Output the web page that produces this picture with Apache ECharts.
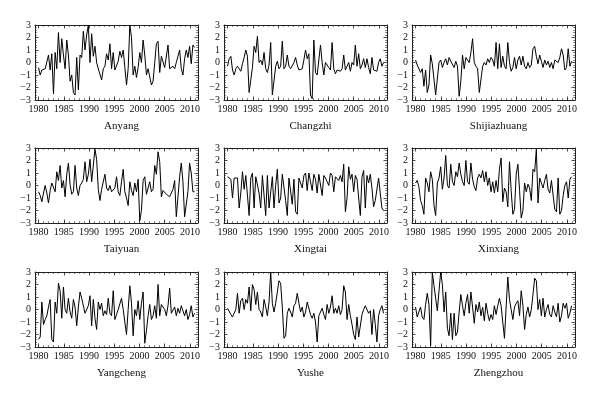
<!DOCTYPE html>
<html><head><meta charset="utf-8">
<script src="https://cdn.jsdelivr.net/npm/echarts@6/dist/echarts.min.js"></script>
<style>html,body{margin:0;padding:0;background:#fff}#c{width:600px;height:395px}</style>
</head><body><div id="c"></div>
<script>
// ---- data (~one sample per 4 months, 1980 -> end of 2010) ----
const stations = ['Anyang','Changzhi','Shijiazhuang','Taiyuan','Xingtai','Xinxiang','Yangcheng','Yushe','Zhengzhou'];
const xTickLabels = [1980,1985,1990,1995,2000,2005,2010];
const xMinorTicks = [1980,1981,1982,1983,1984,1985,1986,1987,1988,1989,1990,1991,1992,1993,1994,1995,1996,1997,1998,1999,2000,2001,2002,2003,2004,2005,2006,2007,2008,2009,2010,2011];
const yTickLabels = [-3,-2,-1,0,1,2,3];
const firstYear = 1980, lastYear = 2010.92;

const anyang = [-0.4,-1.0,-0.6,-0.7,-0.5,-0.6,0.6,-0.6,0.7,-2.5,0.8,-0.5,2.4,0.0,1.9,0.6,-0.5,1.8,0.6,-1.5,-1.0,-2.4,-2.6,0.4,-2.2,0.6,0.4,2.5,1.0,2.2,3.0,0.0,2.3,0.5,1.3,0.0,-0.5,-0.4,-1.4,-0.5,-0.3,0.7,0.2,1.5,-0.5,0.8,-0.6,-0.5,0.1,0.9,0.4,1.0,-0.4,-1.8,-0.5,3.0,2.0,-1.0,-0.3,-1.2,-0.4,0.8,0.0,1.8,0.6,-1.0,-0.5,-0.5,-1.8,-1.5,0.0,1.5,1.7,-0.8,0.5,0.5,-0.4,-0.5,1.4,-0.5,-0.6,-0.3,-0.5,0.0,0.5,1.0,-0.5,-1.0,0.3,1.0,0.4,1.3,-0.1,1.4,1.2];
const changzhi = [-0.3,0.3,0.5,-0.6,-1.0,-0.5,-0.3,-0.2,-0.7,-0.1,0.4,1.0,0.5,-2.4,-2.3,-0.4,1.3,0.8,2.1,0.0,0.2,-0.2,0.8,-0.5,-0.8,-0.2,1.6,-2.6,-2.6,-0.3,0.1,-0.5,-0.3,1.7,-0.5,-0.3,0.6,-0.3,-0.5,-0.6,0.0,0.4,-0.2,-0.6,-0.7,-0.5,0.2,1.0,0.3,0.7,-2.6,-2.9,1.8,-0.8,-1.0,0.2,1.4,0.0,-1.0,0.0,-0.2,-0.4,-0.6,1.6,-0.5,-0.9,-0.6,-0.7,-0.7,-0.5,0.6,-0.6,-0.3,0.0,-0.7,0.0,-0.2,1.4,-0.3,0.7,-0.5,-0.2,0.3,-0.4,0.3,-0.4,-0.9,0.4,-0.6,-0.5,-0.7,0.0,0.3,-0.3,0.0];
const shijiazhuang = [0.2,-0.2,-0.3,-0.8,-0.5,-1.9,-0.6,-2.4,-1.8,0.6,-0.1,0.0,-2.6,-2.7,0.0,0.2,-0.4,0.0,0.3,-0.2,0.4,0.1,0.0,-0.4,0.1,-0.3,-2.7,-1.5,0.6,-0.5,0.4,0.3,0.0,0.8,1.9,0.0,-0.3,-0.5,-2.4,-2.5,-0.3,0.0,-0.2,0.3,0.0,0.4,0.2,-0.3,1.6,-0.5,1.5,-0.4,0.5,-0.3,-0.5,1.6,0.0,-0.7,-0.4,0.4,-0.5,0.2,0.5,-0.2,0.5,-0.3,-0.5,0.0,-0.4,-0.2,1.1,1.3,0.5,-0.1,0.6,0.1,-0.4,0.2,-0.2,0.1,-0.4,0.0,-0.5,0.2,0.1,0.0,0.4,1.1,0.6,-0.6,-0.4,1.1,-0.3,0.1];
const taiyuan = [-0.5,-0.8,-1.3,-0.6,0.0,-0.6,-1.4,-0.4,0.2,0.2,-0.5,1.1,0.4,1.6,-0.2,0.4,-0.9,0.9,1.8,0.1,-0.7,-0.5,1.6,-0.2,-0.8,0.0,0.2,0.5,1.9,0.3,0.9,2.1,0.3,0.3,2.9,2.1,-0.3,-1.2,-0.3,-0.4,0.9,-0.2,-0.4,0.0,-0.5,-0.5,-0.2,0.7,-0.5,-0.8,0.3,1.3,-0.5,-1.0,-1.6,0.3,-0.4,-0.8,0.2,-0.5,0.5,-2.8,-2.0,0.4,0.7,-0.7,-0.8,0.3,-0.5,-0.3,1.6,0.9,2.7,1.9,-0.9,-0.4,-0.4,-0.7,-0.8,-0.9,-0.6,-0.3,0.4,-2.5,-2.5,0.7,1.8,0.3,-2.5,-2.6,-0.5,1.8,1.0,-0.5,-0.5];
const xingtai = [0.7,0.7,0.5,-1.0,0.6,0.7,0.6,-1.8,-0.6,1.1,-0.3,0.8,0.8,-2.4,0.6,1.0,-1.8,0.7,0.6,-0.6,-1.8,0.8,0.8,-2.4,0.8,-1.8,-1.7,0.7,-1.8,0.0,1.3,-1.4,-1.0,0.9,0.8,-1.2,-2.4,0.6,0.5,-1.5,0.5,-2.1,-2.3,0.6,0.5,-0.2,0.8,1.0,-0.4,1.0,0.9,-0.4,0.9,0.5,-0.6,0.9,0.8,-0.8,0.8,0.6,0.3,0.0,1.0,0.8,-0.5,0.7,0.6,0.4,0.8,0.3,1.7,-2.1,-1.0,1.5,0.5,0.9,-0.5,0.8,0.5,-1.0,-2.4,0.7,1.2,-1.8,0.8,0.2,0.9,-0.2,-1.7,-1.2,-1.3,0.6,0.7,-1.8,-2.0];
const xinxiang = [0.2,0.4,-0.1,-1.2,-1.6,-2.3,0.6,0.2,-0.5,1.1,0.5,-1.6,-2.4,0.2,0.6,1.5,-0.3,0.6,2.4,0.0,-0.2,1.7,0.3,0.0,1.1,0.7,1.8,0.9,0.3,0.0,2.0,0.3,0.1,1.8,0.5,-0.1,-0.4,0.6,0.9,0.6,1.2,0.3,1.1,0.0,0.6,-0.5,0.3,-0.6,0.4,-0.5,1.3,2.2,-1.3,-0.2,-0.5,-1.7,1.9,-0.4,-2.3,-1.9,0.9,1.7,-0.4,-2.6,-2.0,0.2,-0.5,0.1,-0.2,-1.2,1.3,1.1,2.9,-1.4,0.6,0.7,-0.2,0.4,0.9,-0.3,-0.6,0.4,0.3,-1.9,-2.1,0.6,-2.3,-2.0,-0.8,0.0,0.3,-1.0,0.5,0.7];
const yangcheng = [-2.4,-2.2,0.6,-1.2,-0.8,-0.5,0.2,0.8,-2.4,-2.6,0.6,-0.3,2.1,1.5,-0.7,1.8,0.0,-0.3,0.9,-0.2,-0.7,0.8,0.2,-1.3,0.2,1.4,0.9,1.0,-0.3,-0.4,0.3,1.1,-1.3,0.8,-0.7,-1.6,0.6,0.0,0.5,-0.5,-0.1,-0.4,0.9,-0.3,-0.5,1.5,-0.8,-0.4,0.0,0.1,0.9,0.0,-1.0,-2.0,0.0,1.9,0.5,-2.1,0.0,-0.5,0.7,-0.8,0.5,1.4,-2.7,-1.7,-0.5,0.4,-0.8,-0.5,0.3,-0.7,2.0,-0.5,0.4,0.3,0.0,-0.5,0.3,1.7,-0.3,-0.2,0.2,-0.5,0.1,-0.3,0.3,-0.1,-0.5,0.0,-0.8,-0.4,0.3,-0.6,-0.3];
const yushe = [0.1,0.0,-0.4,-0.6,-0.7,0.0,1.3,-0.3,0.7,0.9,0.0,0.8,0.5,1.8,-0.1,2.0,1.6,0.4,1.4,0.0,-0.2,-0.6,0.8,0.2,-0.5,0.6,3.0,0.5,-0.2,0.5,0.6,2.3,2.1,0.2,-2.3,-2.1,-0.3,0.1,-0.2,-0.6,0.3,0.5,1.3,0.5,-0.2,0.2,-0.6,-0.2,0.6,0.5,-0.4,-0.7,-0.3,-1.0,-2.6,-0.5,-0.2,0.1,-0.4,-0.8,0.4,-0.3,0.2,1.1,-0.3,0.1,-0.3,0.3,-0.4,0.0,1.9,1.4,-0.8,0.4,-0.5,-1.2,-2.0,-2.4,-0.6,-2.2,-2.2,-0.4,0.0,0.3,0.2,-0.3,-0.1,-2.0,0.0,-1.2,-2.6,-0.5,0.0,0.3,-0.3];
const zhengzhou = [0.2,-0.6,-0.2,0.2,-0.6,-0.8,0.4,1.3,0.4,-2.9,3.0,1.9,2.0,-0.1,1.5,3.0,2.0,-0.2,1.4,-1.5,-2.1,-0.3,-2.4,-0.3,-2.1,-1.8,-0.2,1.2,0.3,-0.5,0.5,1.2,-0.3,1.4,0.2,-1.1,0.4,-0.2,0.6,-0.5,0.2,-0.9,0.5,-0.3,-0.9,-0.4,-0.8,0.3,-0.4,0.3,0.9,0.3,-1.0,-2.3,0.2,2.6,0.8,0.0,-0.8,0.2,0.5,0.7,-0.5,1.5,0.3,-1.6,-0.4,0.2,-0.6,0.0,1.2,2.5,2.3,0.0,0.8,-0.5,0.9,-0.6,0.0,0.4,-0.4,-0.6,0.3,-0.2,-0.6,0.5,-1.0,-0.5,0.5,0.1,0.5,-0.7,-0.3,0.3];
const seriesValues = [anyang, changzhi, shijiazhuang, taiyuan, xingtai, xinxiang, yangcheng, yushe, zhengzhou];

// ---- layout ----
const colLeft = [35, 224, 412];
const rowTop = [25, 148, 272];
const gw = 163, gh = 75;
const xMin = 1979.3, xMax = 2011.6;
const font = '"Liberation Serif", "DejaVu Serif", serif';
const ink = '#222';

const grids = [], xAxes = [], yAxes = [], series = [], titles = [];
function xAx(g, pos, opts) {
  return Object.assign({
    gridIndex: g, type: 'value', min: xMin, max: xMax, position: pos,
    axisLine: { show: false, onZero: false },
    axisTick: { show: false }, axisLabel: { show: false },
    splitLine: { show: false }, silent: true
  }, opts);
}
stations.forEach((name, g) => {
  const r = Math.floor(g / 3), c = g % 3;
  const left = colLeft[c], top = rowTop[r];
  grids.push({ left: left, top: top, width: gw, height: gh, containLabel: false });
  const base = xAxes.length;
  // bottom: frame + major ticks + labels
  xAxes.push(xAx(g, 'bottom', {
    axisLine: { show: true, onZero: false, lineStyle: { color: ink, width: 1 } },
    axisTick: { show: true, inside: true, length: 3.5, customValues: xTickLabels, lineStyle: { color: ink, width: 0.8 } },
    axisLabel: { show: true, customValues: xTickLabels, fontFamily: font, fontSize: 10, color: '#111', margin: 4,
      formatter: v => String(Math.round(v)) }
  }));
  xAxes.push(xAx(g, 'bottom', {
    axisTick: { show: true, inside: true, length: 1.8, customValues: xMinorTicks, lineStyle: { color: ink, width: 0.6 } }
  }));
  xAxes.push(xAx(g, 'top', {
    axisLine: { show: true, onZero: false, lineStyle: { color: ink, width: 1 } },
    axisTick: { show: true, inside: true, length: 3.5, customValues: xTickLabels, lineStyle: { color: ink, width: 0.8 } }
  }));
  xAxes.push(xAx(g, 'top', {
    axisTick: { show: true, inside: true, length: 1.8, customValues: xMinorTicks, lineStyle: { color: ink, width: 0.6 } }
  }));
  const ybase = yAxes.length;
  yAxes.push({
    gridIndex: g, type: 'value', min: -3, max: 3, interval: 1, position: 'left',
    axisLine: { show: true, lineStyle: { color: ink, width: 1 } },
    axisTick: { show: true, inside: true, length: 3.5, lineStyle: { color: ink, width: 0.8 } },
    minorTick: { show: true, splitNumber: 5, length: 1.8, lineStyle: { color: ink, width: 0.6 } },
    axisLabel: { fontFamily: font, fontSize: 10, color: '#111', margin: 4,
      formatter: v => (v < 0 ? '\u2212' + Math.abs(v) : String(v)) },
    splitLine: { show: false }, silent: true
  });
  yAxes.push({
    gridIndex: g, type: 'value', min: -3, max: 3, interval: 1, position: 'right',
    axisLine: { show: true, lineStyle: { color: ink, width: 1 } },
    axisTick: { show: true, inside: true, length: 3.5, lineStyle: { color: ink, width: 0.8 } },
    minorTick: { show: true, splitNumber: 5, length: 1.8, lineStyle: { color: ink, width: 0.6 } },
    axisLabel: { show: false }, splitLine: { show: false }, silent: true
  });
  const vals = seriesValues[g];
  const step = (lastYear - firstYear) / (vals.length - 1);
  series.push({
    type: 'line', xAxisIndex: base, yAxisIndex: ybase,
    data: vals.map((v, i) => [firstYear + i * step, v]),
    showSymbol: false, symbol: 'none', clip: true, animation: false,
    lineStyle: { color: '#000', width: 1 }
  });
  titles.push({
    text: name, left: left + gw / 2, top: top + gh + 16, textAlign: 'center',
    textStyle: { fontFamily: font, fontSize: 11, fontWeight: 'normal', color: '#111' }
  });
});

const chart = echarts.init(document.getElementById('c'), null, { renderer: 'canvas' });
chart.setOption({
  backgroundColor: '#fff', animation: false,
  title: titles, grid: grids, xAxis: xAxes, yAxis: yAxes, series: series
});
</script>
</body></html>
